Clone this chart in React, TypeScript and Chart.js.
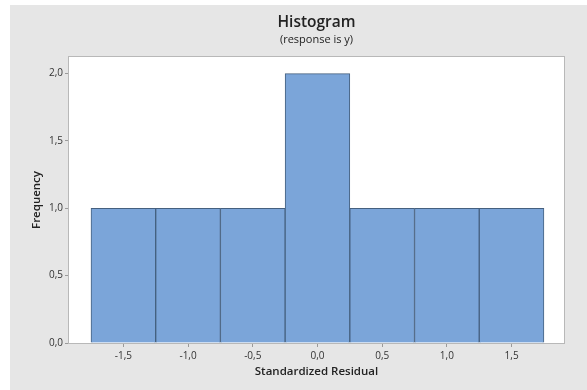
import React, { useEffect, useRef } from "react";
import { Chart, registerables } from "chart.js";

Chart.register(...registerables);

const binCenters = [-1.5, -1.0, -0.5, 0.0, 0.5, 1.0, 1.5];
const frequencies = [1, 1, 1, 2, 1, 1, 1];
const xTicks = [-1.5, -1.0, -0.5, 0.0, 0.5, 1.0, 1.5];
const yTicks = [0.0, 0.5, 1.0, 1.5, 2.0];
const titleText = "Histogram";
const subtitleText = "(response is y)";
const xLabel = "Standardized Residual";
const yLabel = "Frequency";

const FONT = "'Open Sans', 'Noto Sans', sans-serif";
const fmt = (v: number) => v.toFixed(1).replace(".", ",");

const decorPlugin = {
  id: "decor",
  beforeDraw(chart: any) {
    const { ctx, chartArea } = chart;
    ctx.save();
    ctx.fillStyle = "#ffffff";
    ctx.fillRect(chartArea.left, chartArea.top, chartArea.right - chartArea.left, chartArea.bottom - chartArea.top);
    ctx.restore();
  },
  afterDraw(chart: any) {
    const { ctx, chartArea } = chart;
    ctx.save();
    ctx.strokeStyle = "#b8b8b8";
    ctx.lineWidth = 1;
    ctx.strokeRect(
      Math.round(chartArea.left) - 0.5,
      Math.round(chartArea.top) - 0.5,
      Math.round(chartArea.right - chartArea.left) + 1,
      Math.round(chartArea.bottom - chartArea.top) + 1
    );
    const cx = (chartArea.left + chartArea.right) / 2;
    ctx.fillStyle = "#222222";
    ctx.textAlign = "center";
    ctx.textBaseline = "middle";
    ctx.font = `600 15.5px ${FONT}`;
    ctx.fillText(titleText, cx, 18);
    ctx.font = `400 11px ${FONT}`;
    ctx.fillText(subtitleText, cx, 35);
    ctx.font = `600 11.5px ${FONT}`;
    ctx.fillText(xLabel, cx, 367);
    ctx.save();
    ctx.translate(27, (chartArea.top + chartArea.bottom) / 2);
    ctx.rotate(-Math.PI / 2);
    ctx.fillText(yLabel, 0, 0);
    ctx.restore();
    ctx.restore();
  },
};

export default function App() {
  const ref = useRef<HTMLCanvasElement | null>(null);
  useEffect(() => {
    document.body.style.margin = "0";
    const canvas = ref.current!;
    const chart = new Chart(canvas, {
      type: "bar",
      data: {
        datasets: [
          {
            data: binCenters.map((x, i) => ({ x, y: frequencies[i] })),
            backgroundColor: "#7ba5d9",
            borderColor: "#45607f",
            borderWidth: 1,
            barPercentage: 1,
            categoryPercentage: 1,
          },
        ],
      },
      options: {
        animation: false,
        responsive: false,
        maintainAspectRatio: false,
        layout: { padding: { left: 0, top: 52, right: 23, bottom: 0 } },
        plugins: { legend: { display: false }, tooltip: { enabled: false }, title: { display: false } },
        scales: {
          x: {
            type: "linear",
            offset: false,
            min: -1.92,
            max: 1.905,
            afterFit: (s: any) => {
              s.height = 47;
            },
            afterBuildTicks: (s: any) => {
              s.ticks = xTicks.map((v) => ({ value: v }));
            },
            border: { display: false },
            grid: { drawOnChartArea: false, offset: false, tickLength: 4, color: "#9a9a9a" },
            ticks: {
              padding: 3,
              color: "#333333",
              font: { family: FONT, size: 10 },
              callback: (v: any) => fmt(Number(v)),
            },
          },
          y: {
            type: "linear",
            min: 0,
            max: 2.123,
            afterFit: (s: any) => {
              s.width = 59;
            },
            afterBuildTicks: (s: any) => {
              s.ticks = yTicks.map((v) => ({ value: v }));
            },
            border: { display: false },
            grid: { drawOnChartArea: false, tickLength: 4, color: "#9a9a9a" },
            ticks: {
              padding: 2,
              color: "#333333",
              font: { family: FONT, size: 10 },
              callback: (v: any) => fmt(Number(v)),
            },
          },
        },
      },
      plugins: [decorPlugin],
    } as any);
    return () => chart.destroy();
  }, []);
  return (
    <div style={{ position: "relative", width: 587, height: 390, background: "#ffffff", overflow: "hidden" }}>
      <canvas
        ref={ref}
        width={577}
        height={385}
        style={{ position: "absolute", left: 10, top: 5, width: 577, height: 385, background: "#e6e6e6" }}
      />
    </div>
  );
}
